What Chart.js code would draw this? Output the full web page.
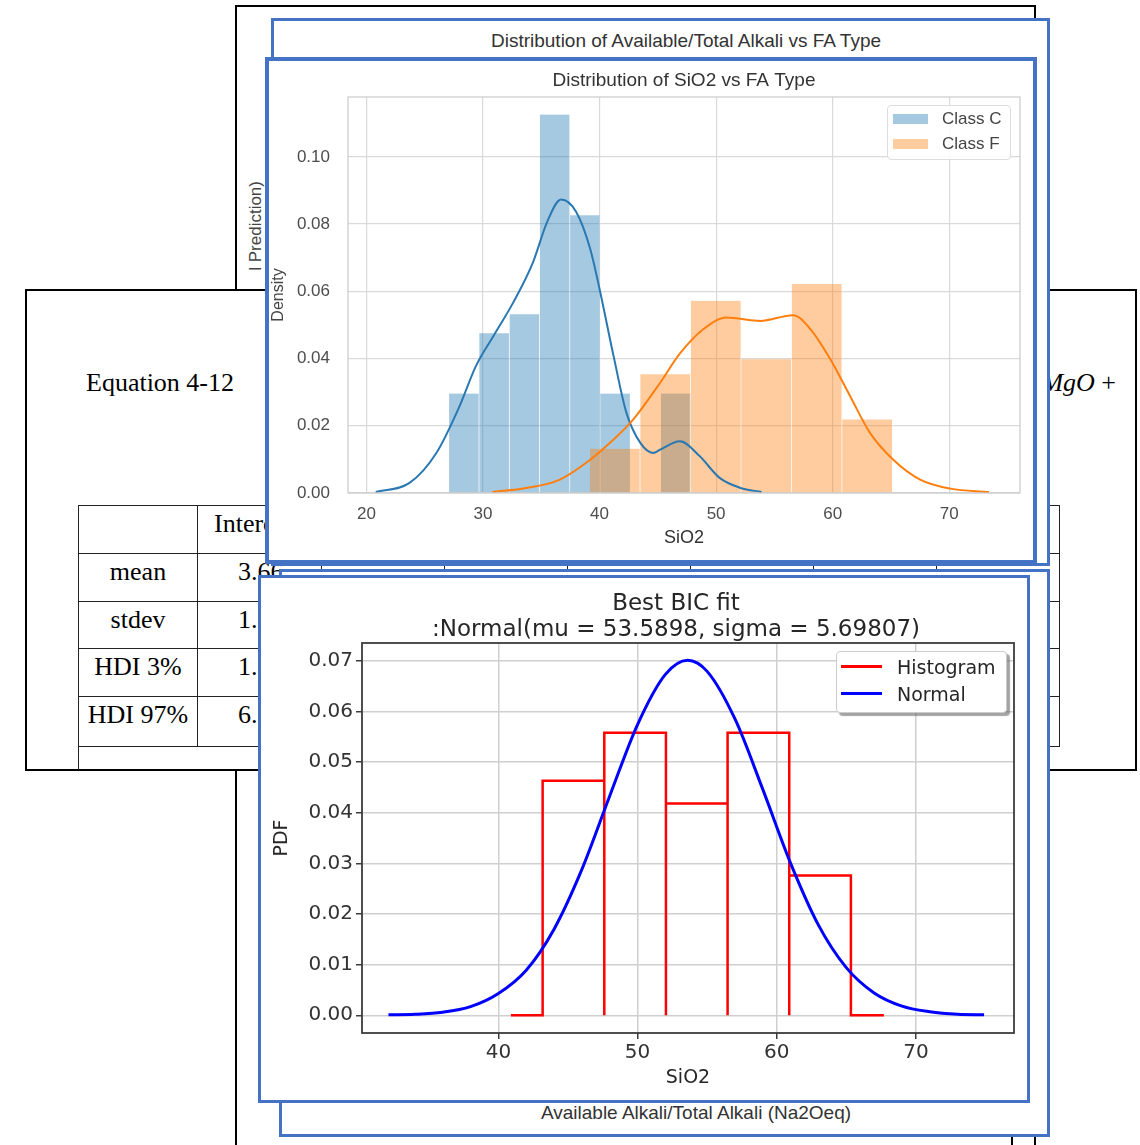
<!DOCTYPE html>
<html lang="en">
<head>
<meta charset="utf-8">
<title>SiO2 distribution collage</title>
<script src="https://cdn.jsdelivr.net/npm/chart.js@4.4.1/dist/chart.umd.min.js"></script>
<style>
  html, body { margin: 0; padding: 0; background: #fff; }
  body { position: relative; width: 1140px; height: 1145px; overflow: hidden; font-family: 'Liberation Sans', Arial, sans-serif; }
  .abs { position: absolute; box-sizing: border-box; }
  .frame { position: absolute; box-sizing: border-box; background: #fff; border: 3px solid #4472c4; }
  .serif { font-family: 'Liberation Serif', 'Times New Roman', serif; font-size: 26px; line-height: 30px; color: #000; white-space: nowrap; }
  .sans { font-family: 'Liberation Sans', Arial, sans-serif; color: #333; white-space: nowrap; }
  .mpl { font-family: 'DejaVu Sans', sans-serif; color: #262626; white-space: nowrap; }
  #stats { border-collapse: collapse; table-layout: fixed; width: 981px; }
  #stats td { border: 1px solid #222; padding: 3px 0 0 0; vertical-align: top; overflow: hidden; white-space: nowrap; }
  #stats td.lbl { text-align: center; }
  #stats td.hd { padding-left: 16px; }
  #stats td.num { padding-left: 40px; }
  #stats tr.tail td { border: none; }
  #stats tr.tail td:first-child { border-left: 1px solid #222; }
</style>
</head>
<body>

<!-- document page behind everything -->
<div class="abs" style="left:235px;top:5px;width:801px;height:1160px;border:2px solid #000;"></div>
<div class="abs" style="left:1011px;top:1136px;width:2px;height:12px;background:#000;"></div>
<div class="abs sans" style="left:247px;top:311px;width:130px;font-size:17px;line-height:18px;color:#444;text-align:right;transform-origin:0 0;transform:rotate(-90deg);">l Prediction)</div>

<!-- equation box with stats table -->
<div class="abs" style="left:25px;top:289px;width:1112px;height:482px;border:2px solid #000;background:#fff;"></div>
<div class="abs serif" style="left:86px;top:368px;">Equation 4-12</div>
<div class="abs serif" style="right:24px;top:368px;"><i>MgO</i>&nbsp;+</div>
<table id="stats" class="abs serif" style="left:78px;top:505px;">
  <colgroup>
    <col style="width:119px"><col style="width:124px">
    <col style="width:123px"><col style="width:123px"><col style="width:123px">
    <col style="width:123px"><col style="width:123px"><col style="width:123px">
  </colgroup>
  <tr style="height:48px"><td class="lbl"></td><td class="hd">Intercept</td><td></td><td></td><td></td><td></td><td></td><td></td></tr>
  <tr style="height:48px"><td class="lbl">mean</td><td class="num">3.66</td><td></td><td></td><td></td><td></td><td></td><td></td></tr>
  <tr style="height:47px"><td class="lbl">stdev</td><td class="num">1.</td><td></td><td></td><td></td><td></td><td></td><td></td></tr>
  <tr style="height:48px"><td class="lbl">HDI 3%</td><td class="num">1.</td><td></td><td></td><td></td><td></td><td></td><td></td></tr>
  <tr style="height:50px"><td class="lbl">HDI 97%</td><td class="num">6.</td><td></td><td></td><td></td><td></td><td></td><td></td></tr>
  <tr class="tail" style="height:23px"><td></td><td></td><td></td><td></td><td></td><td></td><td></td><td></td></tr>
</table>

<!-- pictures pasted behind the two charts -->
<div class="frame" style="left:271px;top:18px;width:779px;height:548px;"></div>
<div class="abs sans" style="left:386px;top:30px;width:600px;text-align:center;font-size:19px;line-height:22px;">Distribution of Available/Total Alkali vs FA Type</div>
<div class="frame" style="left:279px;top:569px;width:771px;height:568px;"></div>
<div class="abs sans" style="left:396px;top:1102px;width:600px;text-align:center;font-size:19px;line-height:22px;">Available Alkali/Total Alkali (Na2Oeq)</div>

<!-- SiO2 vs FA type -->
<div class="frame" style="left:265px;top:57px;width:772px;height:507px;border-width:4px;"></div>
<canvas id="sioChart" class="abs" width="764" height="499" style="left:269px;top:61px;"></canvas>
<div class="abs" style="left:887px;top:105px;width:124px;height:55px;background:rgba(255,255,255,0.85);border:1px solid #dddddd;border-radius:4px;"></div>
<div class="abs" style="left:893px;top:114px;width:35px;height:10px;background:rgba(31,119,180,0.4);"></div>
<div class="abs" style="left:893px;top:139px;width:35px;height:10px;background:rgba(255,127,14,0.4);"></div>
<div class="abs sans" style="left:942px;top:109px;font-size:17px;line-height:20px;color:#444;">Class C</div>
<div class="abs sans" style="left:942px;top:134px;font-size:17px;line-height:20px;color:#444;">Class F</div>

<!-- Best BIC fit -->
<div class="frame" style="left:258px;top:575px;width:772px;height:528px;"></div>
<canvas id="bicChart" class="abs" width="766" height="522" style="left:261px;top:578px;"></canvas>
<div class="abs" style="left:836px;top:651px;width:171px;height:62px;background:#fff;border:1px solid #cccccc;border-radius:4px;box-shadow:3px 3px 1px rgba(90,90,90,0.55);"></div>
<div class="abs" style="left:841px;top:665px;width:41px;height:3px;background:#ff0000;"></div>
<div class="abs" style="left:841px;top:692px;width:41px;height:3px;background:#0000ff;"></div>
<div class="abs mpl" style="left:897px;top:656px;font-size:19px;line-height:22px;">Histogram</div>
<div class="abs mpl" style="left:897px;top:683px;font-size:19px;line-height:22px;">Normal</div>

<script>
// --- SiO2 vs FA type (seaborn distplot) ---
const sioXTicks = [20, 30, 40, 50, 60, 70];
const densityTicks = [0, 0.02, 0.04, 0.06, 0.08, 0.10];

const classCEdges = [27.09, 29.69, 32.28, 34.88, 37.47, 40.07, 42.66, 45.26, 47.85];
const classCDensity = [0.0296, 0.0475, 0.0532, 0.1126, 0.0826, 0.0296, 0, 0.0296];
const classFEdges = [39.17, 43.50, 47.83, 52.16, 56.49, 60.82, 65.15];
const classFDensity = [0.0132, 0.0353, 0.0572, 0.0398, 0.0622, 0.0219];

const classCKdeX = [20.8, 23.7, 26.0, 28.0, 29.4, 30.9, 32.6, 34.3, 35.5, 36.7, 38.0, 39.2, 40.0, 41.2, 42.3, 43.5, 44.6, 45.2, 46.9, 48.6, 50.3, 52.1, 53.9];
const classCKdeY = [0.0003, 0.0030, 0.0119, 0.0259, 0.0378, 0.0467, 0.0567, 0.0687, 0.0806, 0.0873, 0.0836, 0.0726, 0.0607, 0.0408, 0.0239, 0.0149, 0.0119, 0.0129, 0.0154, 0.0109, 0.0045, 0.0015, 0.0003];
const classFKdeX = [30.8, 33.7, 36.6, 39.2, 41.2, 42.9, 45.2, 46.9, 48.9, 50.9, 53.8, 56.6, 58.1, 59.8, 61.5, 63.2, 65.2, 67.5, 70.1, 73.4];
const classFKdeY = [0.0003, 0.0015, 0.0040, 0.0099, 0.0159, 0.0219, 0.0328, 0.0415, 0.0487, 0.0522, 0.0512, 0.0529, 0.0487, 0.0398, 0.0288, 0.0179, 0.0099, 0.0040, 0.0013, 0.0003];

// --- Best BIC fit ---
const bicXTicks = [40, 50, 60, 70];
const pdfTicks = [0, 0.01, 0.02, 0.03, 0.04, 0.05, 0.06, 0.07];
const histEdges = [43.18, 47.61, 52.04, 56.47, 60.90, 65.33];
const histPdf = [0.0463, 0.0558, 0.0418, 0.0558, 0.0276];
const histTails = [40.9, 67.7];
const normalX = [32.1, 34, 36, 38, 40, 42, 44, 46, 48, 50, 52, 53.6, 55, 57, 59, 61, 63, 65, 67, 69, 71, 73, 74.9];
const normalY = [0.0001, 0.0002, 0.0006, 0.0017, 0.0043, 0.0089, 0.0170, 0.0288, 0.0433, 0.0574, 0.0673, 0.0701, 0.0679, 0.0585, 0.0446, 0.0300, 0.0178, 0.0094, 0.0044, 0.0018, 0.0007, 0.0002, 0.0001];

const toPoints = (xs, ys) => xs.map((x, i) => ({ x, y: ys[i] }));
const toBars = (edges, values) => values.map((y, i) => ({ x: (edges[i] + edges[i + 1]) / 2, y }));

// outline of a histogram, each bin closed down to zero like the original step plot
function histOutline(edges, heights, tails) {
  const points = [{ x: tails[0], y: 0 }];
  heights.forEach((h, i) => {
    points.push({ x: edges[i], y: 0 }, { x: edges[i], y: h }, { x: edges[i + 1], y: h });
  });
  points.push({ x: edges[edges.length - 1], y: 0 }, { x: tails[1], y: 0 });
  return points;
}

const setTicks = values => scale => { scale.ticks = values.map(value => ({ value })); };

const plotFrame = {
  id: 'plotFrame',
  afterDatasetsDraw(chart, args, opts) {
    const { ctx, chartArea } = chart;
    ctx.save();
    ctx.strokeStyle = opts.color;
    ctx.lineWidth = opts.width;
    ctx.strokeRect(chartArea.left, chartArea.top, chartArea.right - chartArea.left, chartArea.bottom - chartArea.top);
    ctx.restore();
  },
};

// title centred on the plot area rather than the canvas
const areaTitle = {
  id: 'areaTitle',
  afterDraw(chart, args, opts) {
    const { ctx, chartArea } = chart;
    const centerX = (chartArea.left + chartArea.right) / 2 + opts.shift;
    ctx.save();
    ctx.font = opts.fontSpec;
    ctx.fillStyle = opts.color;
    ctx.textAlign = 'center';
    ctx.textBaseline = 'alphabetic';
    opts.text.split('\n').forEach((line, i) => ctx.fillText(line, centerX, opts.baseline + i * opts.lineGap));
    ctx.restore();
  },
};

const sioFont = 'Liberation Sans';

new Chart(document.getElementById('sioChart'), {
  type: 'bar',
  data: {
    datasets: [
      {
        type: 'bar',
        label: 'Class C',
        xAxisID: 'x',
        data: toBars(classCEdges, classCDensity),
        backgroundColor: 'rgba(31, 119, 180, 0.4)',
        borderColor: 'rgba(255, 255, 255, 0.5)',
        borderWidth: { top: 0, right: 1, bottom: 0, left: 0 },
        categoryPercentage: 1,
        barPercentage: 1,
        grouped: false,
        order: 4,
      },
      {
        type: 'line',
        label: 'Class C KDE',
        xAxisID: 'x',
        data: toPoints(classCKdeX, classCKdeY),
        borderColor: '#2a78b2',
        borderWidth: 2,
        pointRadius: 0,
        cubicInterpolationMode: 'monotone',
        fill: false,
        order: 2,
      },
      {
        type: 'bar',
        label: 'Class F',
        xAxisID: 'xF',
        data: toBars(classFEdges, classFDensity),
        backgroundColor: 'rgba(255, 127, 14, 0.4)',
        borderColor: 'rgba(255, 255, 255, 0.5)',
        borderWidth: { top: 0, right: 1, bottom: 0, left: 0 },
        categoryPercentage: 1,
        barPercentage: 1,
        grouped: false,
        order: 3,
      },
      {
        type: 'line',
        label: 'Class F KDE',
        xAxisID: 'x',
        data: toPoints(classFKdeX, classFKdeY),
        borderColor: '#ff7f0e',
        borderWidth: 2,
        pointRadius: 0,
        cubicInterpolationMode: 'monotone',
        fill: false,
        order: 1,
      },
    ],
  },
  options: {
    responsive: false,
    animation: false,
    events: [],
    layout: { padding: { top: 36, right: 13, bottom: 0, left: 0 } },
    plugins: {
      legend: { display: false },
      tooltip: { enabled: false },
      plotFrame: { color: '#cccccc', width: 1.25 },
      areaTitle: { text: 'Distribution of SiO2 vs FA Type', fontSpec: '19px "Liberation Sans"', color: '#333', baseline: 25, lineGap: 0, shift: 0 },
    },
    scales: {
      x: {
        type: 'linear',
        min: 18.42,
        max: 76.07,
        offset: false,
        afterBuildTicks: setTicks(sioXTicks),
        afterFit: scale => { scale.height = 67; },
        grid: { color: '#d9d9d9', lineWidth: 1.2, drawTicks: false, offset: false },
        border: { display: false },
        ticks: { color: '#4d4d4d', font: { family: sioFont, size: 17 }, padding: 11, maxRotation: 0 },
        title: { display: true, text: 'SiO2', color: '#333', font: { family: sioFont, size: 18 }, padding: { top: 0, bottom: 11 } },
      },
      xF: {
        type: 'linear',
        axis: 'x',
        position: 'bottom',
        display: false,
        min: 18.42,
        max: 76.07,
        offset: false,
        afterBuildTicks: setTicks(sioXTicks),
      },
      y: {
        type: 'linear',
        min: 0,
        max: 0.1178,
        afterBuildTicks: setTicks(densityTicks),
        afterFit: scale => { scale.width = 79; },
        grid: { color: '#d9d9d9', lineWidth: 1.2, drawTicks: false },
        border: { display: false },
        ticks: { color: '#4d4d4d', font: { family: sioFont, size: 17 }, padding: 18, callback: value => value.toFixed(2) },
        title: { display: true, text: 'Density', color: '#444', font: { family: sioFont, size: 16 }, padding: { top: 0, bottom: 0 } },
      },
    },
  },
  plugins: [plotFrame, areaTitle],
});

const bicFont = 'DejaVu Sans';

new Chart(document.getElementById('bicChart'), {
  type: 'line',
  data: {
    datasets: [
      {
        label: 'Histogram',
        data: histOutline(histEdges, histPdf, histTails),
        borderColor: '#ff0000',
        borderWidth: 2.5,
        borderJoinStyle: 'miter',
        pointRadius: 0,
        tension: 0,
        fill: false,
        order: 2,
      },
      {
        label: 'Normal',
        data: toPoints(normalX, normalY),
        borderColor: '#0000ff',
        borderWidth: 3,
        pointRadius: 0,
        cubicInterpolationMode: 'monotone',
        fill: false,
        order: 1,
      },
    ],
  },
  options: {
    responsive: false,
    animation: false,
    events: [],
    layout: { padding: { top: 65, right: 13, bottom: 0, left: 0 } },
    plugins: {
      legend: { display: false },
      tooltip: { enabled: false },
      plotFrame: { color: '#3c3c3c', width: 1.8 },
      areaTitle: {
        text: 'Best BIC fit\n:Normal(mu = 53.5898, sigma = 5.69807)',
        fontSpec: '23px "DejaVu Sans"',
        color: '#262626',
        baseline: 32,
        lineGap: 26,
        shift: -12,
      },
    },
    scales: {
      x: {
        type: 'linear',
        min: 30.2,
        max: 77.05,
        afterBuildTicks: setTicks(bicXTicks),
        afterFit: scale => { scale.height = 67; },
        grid: { color: '#cfcfcf', lineWidth: 1.5, tickLength: 6, tickColor: '#3c3c3c', tickWidth: 1.5 },
        border: { display: false },
        ticks: { color: '#333', font: { family: bicFont, size: 20 }, padding: 2, maxRotation: 0 },
        title: { display: true, text: 'SiO2', color: '#262626', font: { family: bicFont, size: 19 }, padding: { top: 0, bottom: 10.6 } },
      },
      y: {
        type: 'linear',
        min: -0.0035,
        max: 0.0735,
        afterBuildTicks: setTicks(pdfTicks),
        afterFit: scale => { scale.width = 101; },
        grid: { color: '#cfcfcf', lineWidth: 1.5, tickLength: 6, tickColor: '#3c3c3c', tickWidth: 1.5 },
        border: { display: false },
        ticks: { color: '#333', font: { family: bicFont, size: 20 }, padding: 3, callback: value => value.toFixed(2) },
        title: { display: true, text: 'PDF', color: '#262626', font: { family: bicFont, size: 19 }, padding: { top: 10, bottom: 0 } },
      },
    },
  },
  plugins: [plotFrame, areaTitle],
});
</script>
</body>
</html>
